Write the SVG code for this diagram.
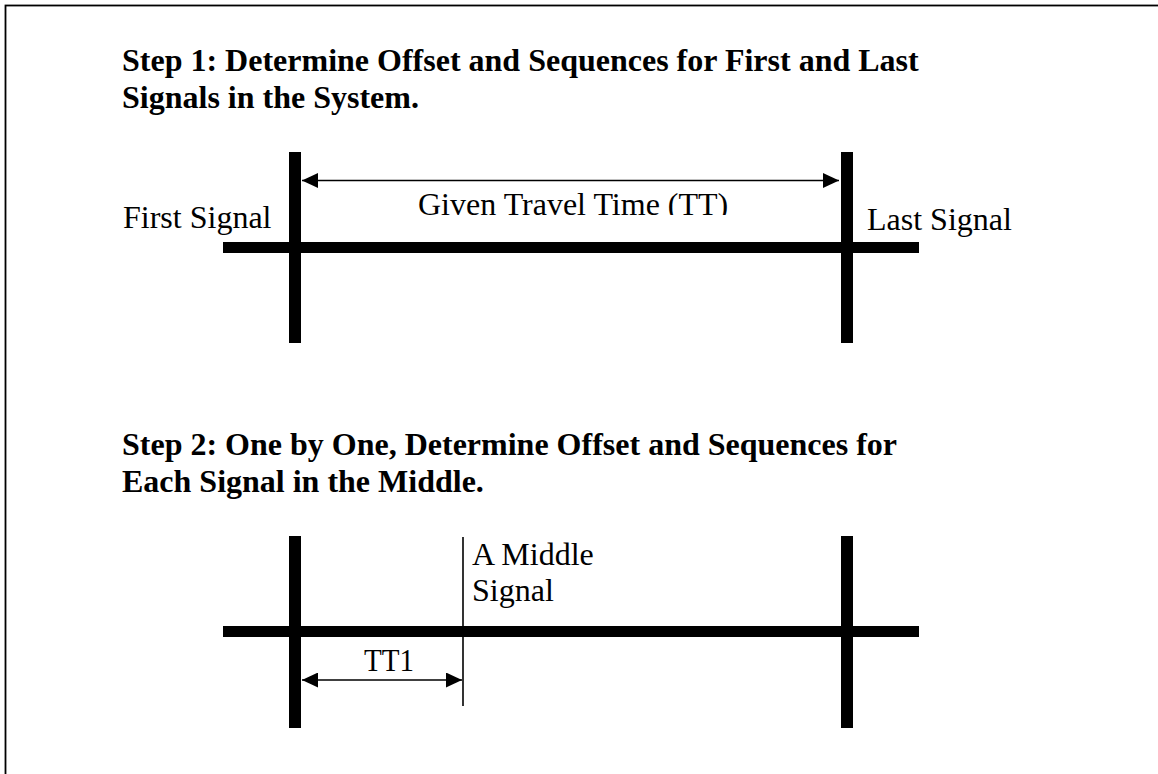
<svg xmlns="http://www.w3.org/2000/svg" width="1158" height="774" viewBox="0 0 1158 774">
  <style>
    .heading { font-family: "Liberation Serif", "Times New Roman", serif; font-size: 32px; font-weight: bold; fill: #000; }
    .label { font-family: "Liberation Serif", "Times New Roman", serif; font-size: 32px; fill: #000; }
    .road { fill: #000; }
    .signal { fill: #000; }
    .thin { stroke: #000; stroke-width: 1.6; fill: none; }
    .dim { stroke: #000; stroke-width: 1.6; fill: none; marker-start: url(#head-start); marker-end: url(#head-end); }
  </style>
  <defs>
    <marker id="head-end" viewBox="0 0 16 15" refX="16" refY="7.5" markerWidth="16" markerHeight="15" markerUnits="userSpaceOnUse" orient="auto">
      <path d="M0,0 L16,7.5 L0,15 Z" fill="#000"/>
    </marker>
    <marker id="head-start" viewBox="0 0 16 15" refX="0" refY="7.5" markerWidth="16" markerHeight="15" markerUnits="userSpaceOnUse" orient="auto">
      <path d="M16,0 L0,7.5 L16,15 Z" fill="#000"/>
    </marker>
    <clipPath id="tt-clip">
      <rect x="400" y="180" width="360" height="35"/>
    </clipPath>
  </defs>

  <rect x="0" y="0" width="1158" height="774" fill="#fff"/>
  <!-- outer frame (runs past the right and bottom edges) -->
  <rect x="5.5" y="5.5" width="1200" height="820" fill="none" stroke="#000" stroke-width="1.8"/>

  <!-- Step 1 -->
  <g id="step1-heading">
    <text class="heading" x="122" y="71">Step 1: Determine Offset and Sequences for First and Last</text>
    <text class="heading" x="122" y="108">Signals in the System.</text>
  </g>
  <g id="step1-road">
    <rect class="road" x="223" y="242" width="696" height="11"/>
  </g>
  <g id="first-signal">
    <rect class="signal" x="289" y="152" width="12" height="191"/>
    <text class="label" x="123" y="228">First Signal</text>
  </g>
  <g id="last-signal">
    <rect class="signal" x="841" y="152" width="12" height="191"/>
    <text class="label" x="867" y="230">Last Signal</text>
  </g>
  <g id="travel-time-label">
    <text class="label" x="418" y="215" clip-path="url(#tt-clip)">Given Travel Time (TT)</text>
  </g>

  <!-- Step 2 -->
  <g id="step2-heading">
    <text class="heading" x="122" y="455">Step 2: One by One, Determine Offset and Sequences for</text>
    <text class="heading" x="122" y="492">Each Signal in the Middle.</text>
  </g>
  <g id="step2-road">
    <rect class="road" x="223" y="626" width="696" height="11"/>
  </g>
  <g id="step2-first-signal">
    <rect class="signal" x="289" y="536" width="12" height="192"/>
  </g>
  <g id="step2-last-signal">
    <rect class="signal" x="841" y="536" width="12" height="192"/>
  </g>
  <g id="middle-signal">
    <line class="thin" x1="463" y1="537" x2="463" y2="706"/>
    <text class="label" x="472" y="565">A Middle</text>
    <text class="label" x="472" y="601">Signal</text>
  </g>
  <g id="tt1-label">
    <text class="label" x="364" y="671" textLength="50" lengthAdjust="spacingAndGlyphs">TT1</text>
  </g>

  <!-- dimension arrows -->
  <g id="connectors">
    <line class="dim" x1="302" y1="180.5" x2="839" y2="180.5"/>
    <line class="dim" x1="302" y1="680" x2="462" y2="680"/>
  </g>
</svg>
